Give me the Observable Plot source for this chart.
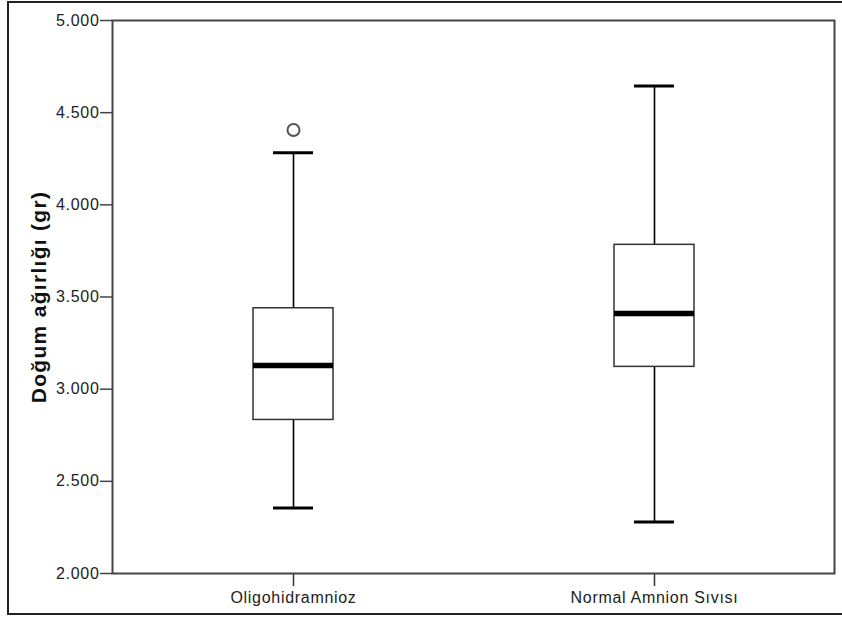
<!DOCTYPE html>
<html>
<head>
<meta charset="utf-8">
<script src="https://cdn.jsdelivr.net/npm/d3@7"></script>
<script src="https://cdn.jsdelivr.net/npm/@observablehq/plot@0.6"></script>
<style>
  html, body { margin: 0; padding: 0; background: #fff; overflow: hidden; }
  #wrap { position: relative; width: 842px; height: 619px; overflow: hidden; }
  #outer { position: absolute; left: 7px; top: 1px; width: 900px; height: 614px; border: 2px solid #222; box-sizing: border-box; }
  #chart { position: absolute; left: 0; top: 0; }
</style>
</head>
<body>
<div id="wrap">
  <div id="outer"></div>
  <div id="chart"></div>
</div>
<script>
const groups = ["Oligohidramnioz", "Normal Amnion Sıvısı"];
const lowWhisker = [2356, 2280];
const q1 = [2833, 3121];
const median = [3129, 3411];
const q3 = [3439, 3783];
const highWhisker = [4282, 4645];
const outlierGroups = ["Oligohidramnioz"];
const outlierValues = [4406];
const yTicks = [2000, 2500, 3000, 3500, 4000, 4500, 5000];
const yTitle = "Doğum ağırlığı (gr)";

const stats = groups.map((g, i) => ({
  group: g, lo: lowWhisker[i], q1: q1[i], med: median[i], q3: q3[i], hi: highWhisker[i]
}));
const outliers = outlierGroups.map((g, i) => ({group: g, value: outlierValues[i]}));

const fmt = v => d3.format(",.0f")(v).replace(/,/g, ".") ;

const chart = Plot.plot({
  width: 842,
  height: 619,
  marginLeft: 112,
  marginRight: 8,
  marginTop: 20,
  marginBottom: 46,
  style: {fontFamily: "'Liberation Sans', Arial, sans-serif", background: "transparent", color: "#222"},
  x: {domain: groups, paddingInner: 0.7784, paddingOuter: 0.3892, label: null},
  y: {domain: [2000, 5000], label: null},
  marks: [
    Plot.axisY({ticks: yTicks, tickFormat: fmt, tickSize: 12, tickPadding: 1, fontSize: 16, label: null, stroke: "#444", strokeWidth: 1.5}),
    Plot.axisX({tickSize: 13, tickPadding: 5, fontSize: 16, label: null, stroke: "#333", strokeWidth: 1.5}),
    Plot.frame({stroke: "#444", strokeWidth: 2}),
    Plot.ruleX(stats, {x: "group", y1: "lo", y2: "q1", stroke: "#000", strokeWidth: 1.6}),
    Plot.ruleX(stats, {x: "group", y1: "q3", y2: "hi", stroke: "#000", strokeWidth: 1.6}),
    Plot.tickY(stats, {x: "group", y: "lo", stroke: "#000", strokeWidth: 3, insetLeft: 20, insetRight: 20}),
    Plot.tickY(stats, {x: "group", y: "hi", stroke: "#000", strokeWidth: 3, insetLeft: 20, insetRight: 20}),
    Plot.barY(stats, {x: "group", y1: "q1", y2: "q3", fill: "white", stroke: "#333", strokeWidth: 1.5}),
    Plot.tickY(stats, {x: "group", y: "med", stroke: "#000", strokeWidth: 5.5}),
    Plot.dot(outliers, {x: "group", y: "value", r: 6, stroke: "#555", strokeWidth: 2, fill: "white"}),
    Plot.text([yTitle], {text: d => d, frameAnchor: "left", textAnchor: "middle", rotate: -90, dx: -73, fontSize: 21, fontWeight: "bold", fill: "#111"})
  ]
});
d3.select(chart).selectAll("text").each(function() {
  const t = d3.select(this);
  if (t.text() === yTitle) t.style("letter-spacing", "1.3px");
  else t.style("letter-spacing", "0.7px");
});
document.getElementById("chart").appendChild(chart);
</script>
</body>
</html>
